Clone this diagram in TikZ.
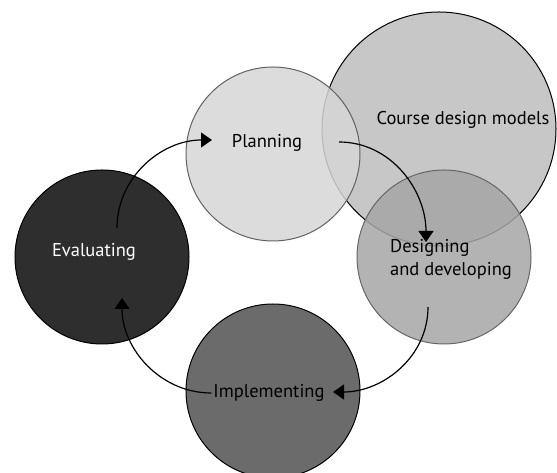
\documentclass[tikz,border=0pt]{standalone}
\usepackage{fontspec}
\setmainfont{PT Sans}
\usetikzlibrary{arrows.meta}
\begin{document}
\begin{tikzpicture}[x=1pt,y=1pt,
  stage/.style={circle, minimum size=174pt, inner sep=0pt, line width=1pt},
  lbl/.style={font=\fontsize{18.5}{22}\selectfont, inner sep=0pt},
  flow/.style={line width=1.2pt, -{Triangle[width=15pt,length=11pt]}}]
\useasboundingbox (0,0) rectangle (557,473);
\clip (0,0) rectangle (557,473);
\fill[white] (0,0) rectangle (557,473);

% background circle for the models
\node[circle, minimum size=234pt, inner sep=0pt, fill=black!22, draw=black, line width=1pt] (models) at (439,344) {};

% the four stages of the cycle
\node[stage, fill=black!16, draw=black!62, fill opacity=0.85] (plan) at (273,319) {};
\node[stage, fill=black!35, draw=black!60, fill opacity=0.85] (design) at (444,216) {};
\node[stage, fill=black!82, draw=black] (eval) at (102,216) {};
\node[stage, fill=black!58, draw=black] (impl) at (273,82) {};

% labels
\node[lbl] (tmodels) at (463,353) {Course design models};
\node[lbl] (tplan) at (267,330) {Planning};
\node[lbl, text=white] (teval) at (94,221) {Evaluating};
\node[lbl, anchor=west, align=left, font=\fontsize{18.5}{23}\selectfont] (tdesign) at (390,214) {Designing\\and developing};
\node[lbl, fill=black!58, inner xsep=2pt, inner ysep=1pt] (timpl) at (269,80) {Implementing};

% arrow end points
\coordinate (e1) at (117,245);
\coordinate (p1) at (212,333);
\coordinate (p2) at (339,331);
\coordinate (d1) at (426,231);
\coordinate (d2) at (428,166);
\coordinate (i1) at (333,81);
\coordinate (i2) at (timpl.west);
\coordinate (e2) at (122,175);

% the cycle
\draw[flow] (e1) to[out=90, in=180] (p1);
\draw[flow] (p2) to[out=0, in=90] (d1);
\draw[flow] (d2) to[out=-90, in=0] (i1);
\draw[flow] (i2) to[out=180, in=-90] (e2);
\end{tikzpicture}
\end{document}
